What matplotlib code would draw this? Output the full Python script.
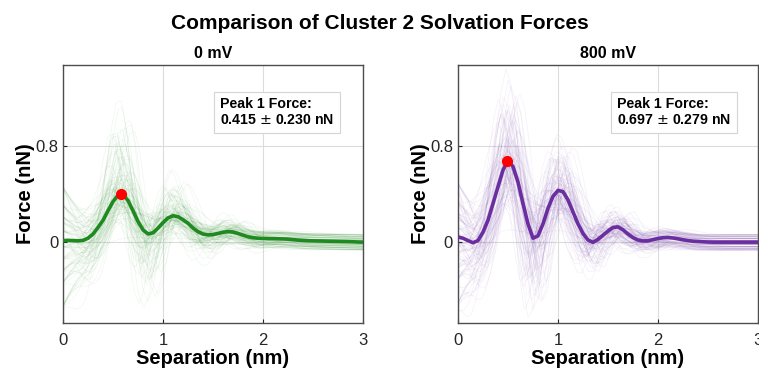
import numpy as np
import matplotlib
matplotlib.use("Agg")
import matplotlib.pyplot as plt

plt.rcParams['font.family'] = ['Liberation Sans', 'DejaVu Sans']

# ---------------- data ----------------
separation = [0.00, 0.05, 0.10, 0.15, 0.20, 0.25, 0.30, 0.35, 0.40, 0.45,
              0.50, 0.55, 0.60, 0.65, 0.70, 0.75, 0.80, 0.85, 0.90, 0.95,
              1.00, 1.05, 1.10, 1.15, 1.20, 1.25, 1.30, 1.35, 1.40, 1.45,
              1.50, 1.55, 1.60, 1.65, 1.70, 1.75, 1.80, 1.85, 1.90, 1.95,
              2.00, 2.05, 2.10, 2.15, 2.20, 2.25, 2.30, 2.35, 2.40, 2.45,
              2.50, 2.55, 2.60, 2.65, 2.70, 2.75, 2.80, 2.85, 2.90, 2.95, 3.00]

mean_0mV = [0.010, 0.012, 0.010, 0.008, 0.012, 0.030, 0.065, 0.120, 0.180, 0.260,
            0.336, 0.390, 0.395, 0.345, 0.260, 0.170, 0.100, 0.066, 0.075, 0.115,
            0.160, 0.200, 0.218, 0.210, 0.185, 0.155, 0.115, 0.085, 0.065, 0.058,
            0.060, 0.070, 0.080, 0.085, 0.082, 0.070, 0.055, 0.042, 0.034, 0.030,
            0.028, 0.027, 0.026, 0.025, 0.024, 0.022, 0.018, 0.014, 0.011, 0.009,
            0.008, 0.007, 0.006, 0.005, 0.004, 0.003, 0.002, 0.001, 0.000, -0.002, -0.003]

mean_800mV = [0.040, 0.030, 0.010, -0.008, 0.010, 0.080, 0.180, 0.320, 0.460, 0.600,
              0.680, 0.630, 0.500, 0.320, 0.150, 0.030, 0.050, 0.150, 0.280, 0.380,
              0.430, 0.420, 0.350, 0.250, 0.150, 0.070, 0.015, -0.005, 0.020, 0.055,
              0.090, 0.120, 0.125, 0.100, 0.065, 0.035, 0.015, 0.007, 0.008, 0.018,
              0.028, 0.034, 0.036, 0.032, 0.025, 0.017, 0.010, 0.005, 0.002, 0.000,
              -0.002, -0.003, -0.003, -0.003, -0.003, -0.003, -0.003, -0.003, -0.003, -0.003, -0.003]

peak_0mV = (0.577, 0.400)
peak_800mV = (0.490, 0.680)

peak_text_0mV = "Peak 1 Force:\n0.415 $\\pm$ 0.230 nN"
peak_text_800mV = "Peak 1 Force:\n0.697 $\\pm$ 0.279 nN"

panel_titles = ["0 mV", "800 mV"]
x_ticks = [0, 1, 2, 3]
y_ticks = [0, 0.8]

# spread of the individual (faint) curves around the mean, estimated by eye
trace_amps_0mV = [0.0, 0.4, 0.7, 0.9, 1.0, 1.1, 1.2, 1.4, 1.6, 1.8, 2.1, 2.6, 3.2, 4.0, 5.0]
trace_amps_800mV = [0.1, 0.4, 0.6, 0.8, 0.9, 1.0, 1.1, 1.2, 1.35, 1.5, 1.7, 1.9, 2.2, 2.5, 2.7]
trace_mid_scale = [0.6, 1.0, 1.4, 0.8, 1.2, 1.0, 0.9]
trace_shifts = [-0.09, -0.06, -0.03, 0.0, 0.03, 0.06, 0.09]
trace_stretch = [0.94, 1.04, 0.98, 1.0, 1.06, 0.96, 1.02]
trace_offsets = [-0.55, 0.3, -0.15, 0.08, -0.35, 0.45, -0.05, 0.15, -0.25, 0.0, 0.2]
trace_tail = [-0.05, 0.03, -0.02, 0.06, 0.0, -0.035, 0.045, 0.015, -0.065]

# ---------------- figure ----------------
fig = plt.figure(figsize=(7.59, 3.72), dpi=100)
ax_l = fig.add_axes([0.0830, 0.1317, 0.3953, 0.6935])
ax_r = fig.add_axes([0.6034, 0.1317, 0.3953, 0.6935])

x = np.array(separation)
xs = np.linspace(0, 3, 301)

panels = [
    (ax_l, mean_0mV, peak_0mV, peak_text_0mV, trace_amps_0mV, '#1f8a1f', 0.523),
    (ax_r, mean_800mV, peak_800mV, peak_text_800mV, trace_amps_800mV, '#6a2ea0', 0.530),
]

for k, (ax, mean, peak, ptext, amps, col, tx) in enumerate(panels):
    m = np.array(mean)
    w = 11
    padded = np.concatenate([np.full(w // 2, m[0]), m, np.full(w // 2, m[-1])])
    mid = np.convolve(padded, np.ones(w) / w, mode='valid')
    dev = m - mid
    for i, a in enumerate(amps):
        for j, s in enumerate(trace_shifts):
            idx = i * len(trace_shifts) + j
            c = trace_offsets[idx % len(trace_offsets)]
            t = trace_tail[idx % len(trace_tail)]
            p = trace_mid_scale[(idx + 2 * i) % len(trace_mid_scale)]
            st = trace_stretch[(idx + i) % len(trace_stretch)]
            xx = xs * st - s
            tr = (p * np.interp(xx, x, mid) + a * np.interp(xx, x, dev)
                  + c * np.exp(-xs / 0.3) + t * (1 - np.exp(-xs / 0.4)))
            ax.plot(xs, tr, color=col, lw=0.5, alpha=0.065)
    ax.plot(x, m, color=col, lw=2.6, solid_capstyle='round', zorder=5)
    ax.plot([peak[0]], [peak[1]], 'o', color='red', ms=7, zorder=6)

    ax.set_xlim(0, 3)
    ax.set_ylim(-0.68, 1.48)
    ax.set_xticks(x_ticks)
    ax.set_yticks(y_ticks)
    ax.set_yticklabels(['0', '0.8'])
    ax.grid(True, color='#dcdcdc', lw=0.8)
    ax.set_axisbelow(True)
    ax.tick_params(direction='in', length=3, labelsize=12, colors='#262626',
                   labelcolor='#262626')
    ax.tick_params(axis='x', pad=7)
    for sp in ax.spines.values():
        sp.set_color('#4d4d4d')
        sp.set_linewidth(1.0)
    ax.set_xlabel('Separation (nm)', fontsize=14.5, fontweight='bold', labelpad=1)
    ax.set_ylabel('Force (nN)', fontsize=14.5, fontweight='bold', labelpad=0)
    ax.set_title(panel_titles[k], fontsize=11.5, fontweight='bold', pad=5)
    ax.text(tx, 0.875, ptext, transform=ax.transAxes, va='top', ha='left',
            fontsize=10.2, fontweight='bold', linespacing=1.2, zorder=7,
            bbox=dict(boxstyle='square,pad=0.4', fc='white', ec='#d4d4d4', lw=0.8))

fig.suptitle('Comparison of Cluster 2 Solvation Forces', fontsize=15,
             fontweight='bold', x=0.5, y=0.962)

fig.savefig('out.png', dpi=100)
